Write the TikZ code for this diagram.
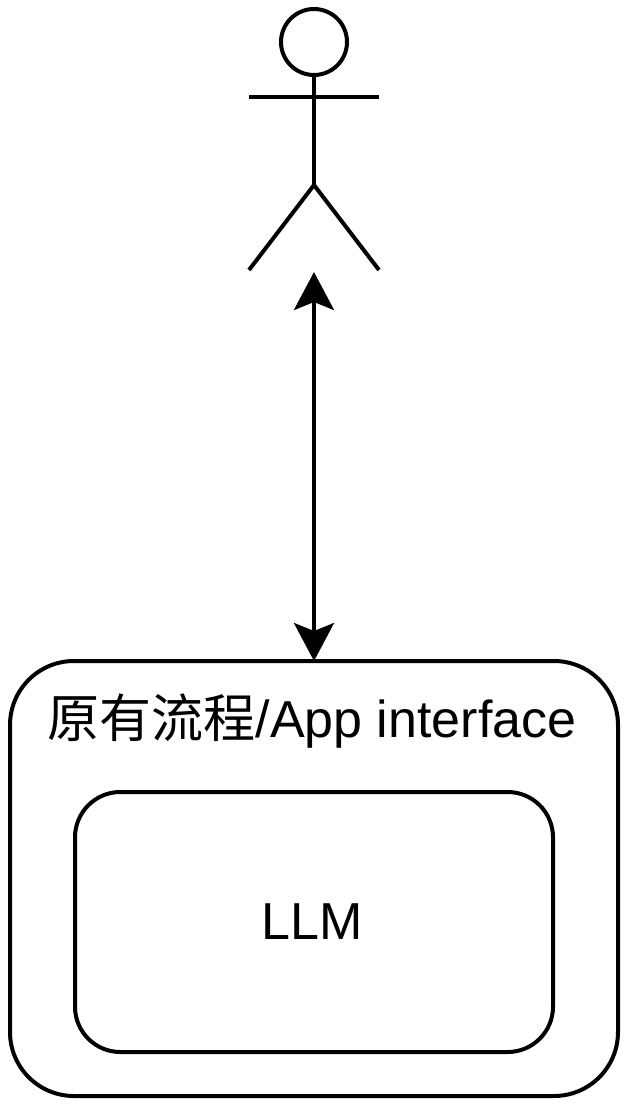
\documentclass[tikz,border=0pt]{standalone}
\usepackage{fontspec}
\setmainfont{Liberation Sans}
\newfontfamily\cjk{Noto Sans CJK SC}
\usetikzlibrary{arrows.meta}

\begin{document}
\begin{tikzpicture}[x=0.75pt,y=0.75pt,line width=3pt,
                    <->/.style={{Stealth[length=28.5pt,width=30pt,inset=6pt]}-{Stealth[length=28.5pt,width=30pt,inset=6pt]}},
                    box/.style={draw,rectangle,outer sep=0pt,inner sep=0pt},
                    label/.style={font=\fontsize{39pt}{43pt}\selectfont}]
  \useasboundingbox (0,0) rectangle (630,-1108);

  \node[box,minimum width=456pt,minimum height=326.25pt,rounded corners=48pt] (Outer) at (314,-878.5) {};
  \node[box,minimum width=358.5pt,minimum height=195pt,rounded corners=34pt]  (Inner) at (314,-922) {};
  \node[label] (Title) at (312,-721) {{\cjk 原有流程}/App interface};
  \node[label] (Model) at (312,-922) {LLM};

  \node[draw,circle,minimum size=49.5pt,inner sep=0pt,outer sep=0pt] (Head) at (314,-42) {};
  \coordinate (Hip)   at (314,-185);
  \coordinate (ArmL)  at (249,-97);
  \coordinate (ArmR)  at (379,-97);
  \coordinate (FootL) at (249,-270);
  \coordinate (FootR) at (379,-270);
  \coordinate (Actor) at (314,-272);

  \draw (Head.south) -- (Hip);
  \draw (ArmL) -- (ArmR);
  \draw (FootL) -- (Hip) -- (FootR);

  \draw[<->] (Actor) -- (Outer.north);
\end{tikzpicture}
\end{document}
